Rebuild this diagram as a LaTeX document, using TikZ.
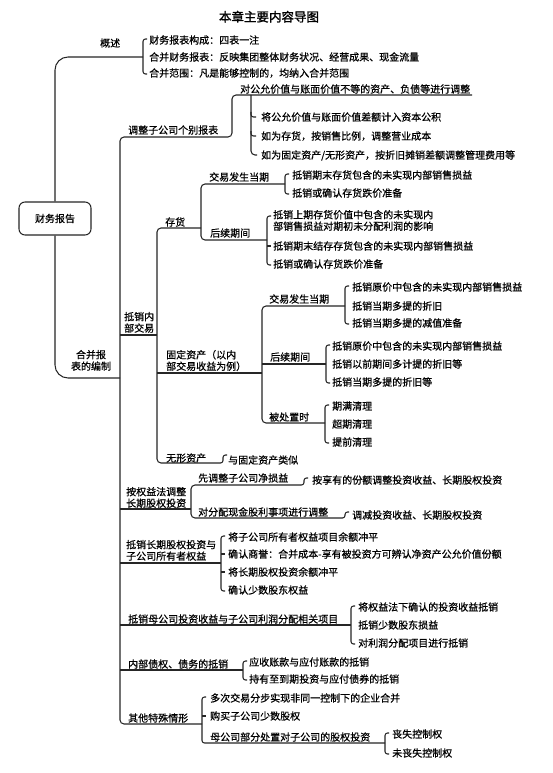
\documentclass[tikz,border=0pt]{standalone}
\usepackage{fontspec}
\newfontfamily\cjk{Noto Sans CJK SC}[FakeBold=0.6]
\newfontfamily\cjkt{Noto Sans CJK SC}[FakeBold=1.6]
\tikzset{
 itm/.style={font=\cjk\fontsize{10}{11.5}\selectfont, inner sep=0pt, anchor=base west, text=black},
 two/.style={font=\cjk\fontsize{10}{11.5}\selectfont, inner sep=0pt, align=left, anchor=north west, text=black},
 wire/.style={line width=1.05pt, draw=black!85, rounded corners=4pt},
 brk/.style={line width=1.05pt, draw=black!85, rounded corners=2.5pt},
}
\newcommand\Itm[4]{\node[itm] (#1) at (#2,#3+3.8) {#4};}
\newcommand\Brk[3]{\draw[brk] (#1+4,#2) -- (#1,#2) -- (#1,#3) -- (#1+4,#3);}
\newcommand\Tck[2]{\draw[brk] (#1,#2) -- (#1+3.5,#2);}
\begin{document}
\begin{tikzpicture}[x=1pt,y=-1pt]
\useasboundingbox[fill=white] (0,0) rectangle (553,773);
% title
\node[font=\cjkt\fontsize{12.5}{14}\selectfont, inner sep=0pt, anchor=base] (title) at (269,21.5) {本章主要内容导图};
% root
\node[draw=black!85, line width=1.05pt, rounded corners=6pt, minimum width=72pt, minimum height=33pt, inner sep=0pt, font=\cjk\fontsize{10}{11.5}\selectfont] (root) at (55,218.5) {财务报告};
\draw[wire, rounded corners=13pt] (root.north) -- (55,57) -- (143,57);
\draw[wire, rounded corners=13pt] (root.south) -- (55,378) -- (120,378);
% overview
\Itm{gs}{100}{43}{概述}
\Brk{143}{39}{74}
\Itm{g1}{149}{40}{财务报表构成：四表一注}
\Itm{g2}{149}{57}{合并财务报表：反映集团整体财务状况、经营成果、现金流量}
\Itm{g3}{149}{73}{合并范围：凡是能够控制的，均纳入合并范围}
% compilation
\node[two, align=center, anchor=north] (hb) at (91,349.8) {合并报\\表的编制};
\draw[wire] (472,95) -- (232,95) -- (232,137) -- (120,137) -- (120,724) -- (202,724);
\Itm{tz}{128}{130}{调整子公司个别报表}
\Itm{dg}{240}{89}{对公允价值与账面价值不等的资产、负债等进行调整}
\draw[wire] (251,95) -- (251,155) -- (257,155);
\draw[brk] (251,112) -- (251,117) -- (256,117);
\draw[brk] (251,131) -- (251,136) -- (256,136);
\Itm{d1}{261}{117}{将公允价值与账面价值差额计入资本公积}
\Itm{d2}{261}{136}{如为存货，按销售比例，调整营业成本}
\Itm{d3}{261}{155}{如为固定资产/无形资产，按折旧摊销差额调整管理费用等}
% internal transactions
\draw[wire] (120,335) -- (157,335);
\node[two] (nb) at (124,311.8) {抵销内\\部交易};
\draw[wire] (201,228) -- (157,228) -- (157,463) -- (220,463);
\Itm{ch}{165}{222}{存货}
\draw[wire] (285,184) -- (201,184) -- (201,240) -- (267,240);
\Itm{c1}{209}{177}{交易发生当期}
\Brk{285}{174}{194}
\Itm{c11}{292}{175}{抵销期末存货包含的未实现内部销售损益}
\Itm{c12}{292}{193}{抵销或确认存货跌价准备}
\Itm{c2}{210}{233}{后续期间}
\Brk{267}{216}{265}
\Tck{267}{246}
\node[two] (c21) at (273,209.8) {抵销上期存货价值中包含的未实现内\\部销售损益对期初未分配利润的影响};
\Itm{c22}{273}{246}{抵销期末结存存货包含的未实现内部销售损益}
\Itm{c23}{273}{264}{抵销或确认存货跌价准备}
% fixed assets
\draw[wire] (157,373) -- (262,373);
\node[two] (gd) at (166,349.8) {固定资产（以内\\部交易收益为例）};
\draw[wire] (345,306) -- (262,306) -- (262,423) -- (325,423);
\draw[wire] (262,364) -- (326,364);
\Itm{f1}{269}{299}{交易发生当期}
\Brk{345}{286}{324}
\Itm{f11}{352}{287}{抵销原价中包含的未实现内部销售损益}
\Itm{f12}{352}{306}{抵销当期多提的折旧}
\Itm{f13}{352}{323}{抵销当期多提的减值准备}
\Itm{f2}{270}{357}{后续期间}
\Brk{326}{345}{383}
\Itm{f21}{332}{346}{抵销原价中包含的未实现内部销售损益}
\Itm{f22}{332}{364}{抵销以前期间多计提的折旧等}
\Itm{f23}{332}{382}{抵销当期多提的折旧等}
\Itm{f3}{269}{417}{被处置时}
\Brk{325}{405}{443}
\Itm{f31}{332}{406}{期满清理}
\Itm{f32}{332}{424}{超期清理}
\Itm{f33}{332}{442}{提前清理}
% intangible
\Itm{wx}{166}{458}{无形资产}
\draw[brk] (220,463) -- (223,463) -- (223,455) -- (227,455);
\Itm{wx1}{228}{460}{与固定资产类似}
% equity method
\draw[wire] (120,509) -- (191,509);
\node[two, align=center] (qy) at (126,486.8) {按权益法调整\\长期股权投资};
\draw[wire] (300,485) -- (191,485) -- (191,518) -- (342,518);
\Itm{q1}{198}{478}{先调整子公司净损益}
\draw[brk] (300,485) -- (304,485) -- (304,478) -- (308,478);
\Itm{q11}{312}{480}{按享有的份额调整投资收益、长期股权投资}
\Itm{q2}{198}{512}{对分配现金股利事项进行调整}
\draw[brk] (342,518) -- (345,518) -- (345,512) -- (349,512);
\Itm{q21}{352}{515}{调减投资收益、长期股权投资}
% offset investment and equity
\draw[wire] (120,563) -- (221,563);
\node[two] (cq) at (126,539.8) {抵销长期股权投资与\\子公司所有者权益};
\Brk{221}{536}{591}
\Tck{221}{554}
\Tck{221}{572}
\Itm{cq1}{228}{537}{将子公司所有者权益项目余额冲平}
\Itm{cq2}{228}{554}{确认商誉：合并成本-享有被投资方可辨认净资产公允价值份额}
\Itm{cq3}{228}{572}{将长期股权投资余额冲平}
\Itm{cq4}{228}{590}{确认少数股东权益}
% offset investment income
\draw[wire] (120,625) -- (351,625);
\Itm{ms}{128}{619}{抵销母公司投资收益与子公司利润分配相关项目}
\Brk{351}{606}{644}
\Itm{ms1}{358}{607}{将权益法下确认的投资收益抵销}
\Itm{ms2}{358}{625}{抵销少数股东损益}
\Itm{ms3}{358}{643}{对利润分配项目进行抵销}
% internal debts
\draw[wire] (120,670) -- (243,670);
\Itm{zq}{128}{664}{内部债权、债务的抵销}
\Brk{243}{661}{680}
\Itm{zq1}{249}{662}{应收账款与应付账款的抵销}
\Itm{zq2}{249}{679}{持有至到期投资与应付债券的抵销}
% special
\Itm{qt}{128}{718}{其他特殊情形}
\draw[brk] (206,697) -- (202,697) -- (202,743) -- (385,743);
\Tck{202}{716}
\Itm{qt1}{210}{698}{多次交易分步实现非同一控制下的企业合并}
\Itm{qt2}{210}{716}{购买子公司少数股权}
\Itm{qt3}{210}{737}{母公司部分处置对子公司的股权投资}
\Brk{385}{733}{754}
\Itm{qt31}{392}{734}{丧失控制权}
\Itm{qt32}{392}{753}{未丧失控制权}
\end{tikzpicture}
\end{document}
